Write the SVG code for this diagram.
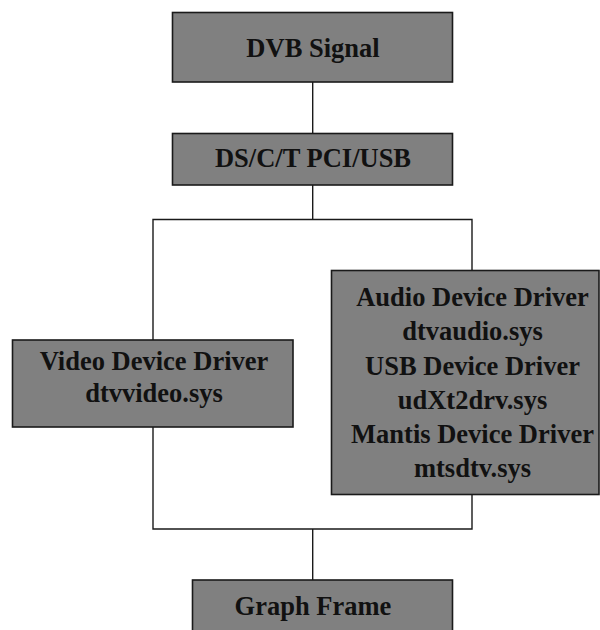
<svg xmlns="http://www.w3.org/2000/svg" width="600" height="630" viewBox="0 0 600 630">
<style>
.box{fill:#808080;stroke:#1a1a1a;stroke-width:1.6}
.t{font-family:"Liberation Serif","Times New Roman",serif;font-weight:bold;font-size:26.5px;fill:#111;text-anchor:middle}
.c{fill:none;stroke:#1a1a1a;stroke-width:1.4}
</style>
<rect width="600" height="630" fill="#ffffff"/>
<g id="connectors">
<path class="c" d="M312.7 82 V133"/>
<path class="c" d="M312.7 185 V219.5 M153 340 V219.5 H472 V270"/>
<path class="c" d="M153 427 V529 H472 V494 M312.7 529 V580"/>
</g>
<g id="dvb-signal">
<rect class="box" x="172.5" y="12.5" width="280" height="69.5"/>
<text class="t" x="313" y="57">DVB Signal</text>
</g>
<g id="pci-usb">
<rect class="box" x="172.5" y="133.5" width="280" height="51.5"/>
<text class="t" x="313" y="167">DS/C/T PCI/USB</text>
</g>
<g id="video-driver">
<rect class="box" x="12.5" y="340" width="280.5" height="87"/>
<text class="t" x="154" y="370">Video Device Driver</text>
<text class="t" x="154" y="402">dtvvideo.sys</text>
</g>
<g id="audio-usb-mantis-drivers">
<rect class="box" x="331.5" y="270.5" width="267.5" height="224"/>
<text class="t" x="472.5" y="306">Audio Device Driver</text>
<text class="t" x="472.5" y="340">dtvaudio.sys</text>
<text class="t" x="472.5" y="374.5">USB Device Driver</text>
<text class="t" x="472.5" y="408.5">udXt2drv.sys</text>
<text class="t" x="472.5" y="442.5">Mantis Device Driver</text>
<text class="t" x="472.5" y="476.5">mtsdtv.sys</text>
</g>
<g id="graph-frame">
<rect class="box" x="192.5" y="580" width="260" height="60"/>
<text class="t" x="313" y="615">Graph Frame</text>
</g>
</svg>
